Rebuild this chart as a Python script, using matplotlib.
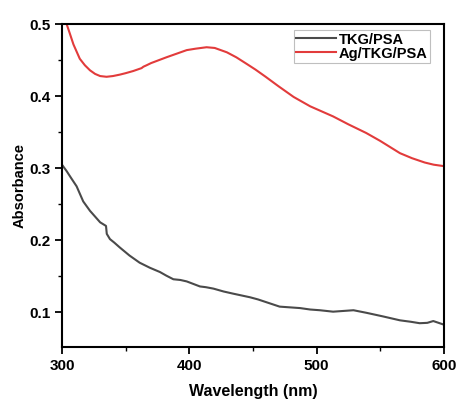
import matplotlib
matplotlib.use('Agg')
import matplotlib.pyplot as plt
from matplotlib.ticker import MultipleLocator

# (nm, absorbance)
wl_tkg = [300, 303.7, 307, 311.5, 316.7, 322, 326, 330, 334.6, 335.2, 337.7, 341, 345.5, 353, 361, 369, 377,
          382, 387.5, 393, 398, 408.4, 413, 419, 427, 434.5, 447.7, 454, 460.8, 471, 479, 487, 495,
          502.6, 513, 521, 529, 539, 552, 565.5, 574, 581, 587, 591.7, 600]
abs_tkg = [0.305, 0.296, 0.287, 0.275, 0.254, 0.241, 0.233, 0.225, 0.220, 0.209, 0.2017, 0.197, 0.190, 0.179,
           0.169, 0.162, 0.156, 0.151, 0.146, 0.145, 0.143, 0.136, 0.135, 0.133, 0.129, 0.126, 0.121, 0.118,
           0.114, 0.108, 0.107, 0.106, 0.104, 0.103, 0.101, 0.102, 0.103, 0.0995, 0.0945, 0.089, 0.087,
           0.085, 0.0855, 0.088, 0.083]

wl_ag = [300, 303.7, 306, 309, 314, 318, 322, 326, 330, 335, 340, 345.5, 350, 356, 362.5, 364, 366.5,
         370, 382, 390, 398, 405, 413.6, 420, 429.5, 437, 445, 452, 460, 470, 482, 495, 513, 525,
         539, 550, 565.5, 575, 585, 592, 600]
abs_ag = [0.52, 0.50, 0.488, 0.472, 0.452, 0.443, 0.436, 0.431, 0.428, 0.427, 0.428, 0.430, 0.432, 0.435,
          0.439, 0.441, 0.443, 0.446, 0.454, 0.459, 0.464, 0.466, 0.468, 0.467, 0.461, 0.454, 0.445, 0.437,
          0.427, 0.414, 0.399, 0.386, 0.372, 0.361, 0.349, 0.338, 0.321, 0.314, 0.308, 0.305, 0.303]

labels = ['TKG/PSA', 'Ag/TKG/PSA']

plt.rcParams['font.family'] = ['Liberation Sans', 'DejaVu Sans']
plt.rcParams['font.weight'] = 'bold'

fig = plt.figure(figsize=(4.59, 4.03), dpi=100)
ax = fig.add_axes([0.135, 0.139, 0.832, 0.801])

ax.plot(wl_tkg, abs_tkg, color='#4a4a4a', lw=1.5, label=labels[0])
ax.plot(wl_ag, abs_ag, color='#e23b3b', lw=1.5, label=labels[1])

ax.set_xlim(300, 600)
ax.set_ylim(0.052, 0.5)
ax.xaxis.set_major_locator(MultipleLocator(100))
ax.xaxis.set_minor_locator(MultipleLocator(50))
ax.yaxis.set_major_locator(MultipleLocator(0.1))
ax.yaxis.set_minor_locator(MultipleLocator(0.05))
ax.tick_params(which='major', length=5, width=1.3, labelsize=11, direction='out')
ax.tick_params(which='minor', length=3, width=1.0, direction='out')
for s in ax.spines.values():
    s.set_linewidth(1.5)

ax.set_xlabel('Wavelength (nm)', fontsize=11.5, fontweight='bold', labelpad=8)
ax.set_ylabel('Absorbance', fontsize=10.5, fontweight='bold', labelpad=1.5)

leg = ax.legend(loc='upper right', fontsize=10.5, frameon=True, fancybox=False,
                handlelength=2.7, handletextpad=0.2, borderpad=0.15, labelspacing=0.0,
                borderaxespad=0, bbox_to_anchor=(0.963, 0.981))
leg.get_frame().set_edgecolor('#b0b0b0')
leg.get_frame().set_linewidth(0.8)

fig.savefig('out.png', dpi=100)
